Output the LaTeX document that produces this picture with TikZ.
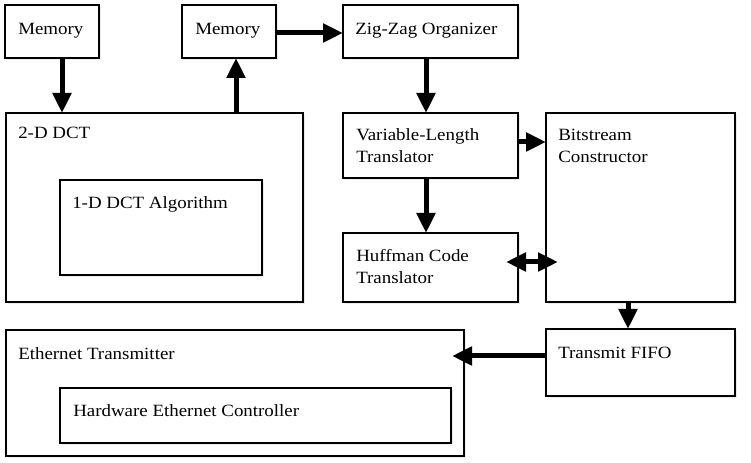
\documentclass[tikz,border=0pt]{standalone}
\usepackage{fontspec}
\setmainfont[FakeStretch=1.1]{Liberation Serif}
\usetikzlibrary{arrows.meta,calc,shadows}
\newcommand\twolines[2]{\vtop{\baselineskip=16.5pt\hbox{#1}\hbox{#2}}}
\newcommand\pbox[5]{\node[box, minimum width=#4*0.75pt, minimum height=#5*0.75pt] (#1) at (#2,#3) {};}
\begin{document}
\begin{tikzpicture}[x=0.75pt,y=-0.75pt,
 box/.style={draw=black, line width=1.9pt, fill=white, inner sep=0pt, outer sep=0pt, anchor=north west,
   drop shadow={shadow xshift=1.5pt, shadow yshift=-1.5pt, opacity=0.15}},
 lbl/.style={anchor=base west, inner sep=0pt, font=\fontsize{12.9pt}{16.5pt}\selectfont},
 tipa/.tip={Triangle[length=15pt,width=13.5pt]},
 arr/.style={line width=3.75pt, -tipa},
 darr/.style={line width=3.75pt, tipa-tipa}]
\useasboundingbox (0,0) rectangle (751,463);
% boxes
\pbox{m1}{5}{5}{94}{53}
\pbox{m2}{182}{5}{94}{53}
\pbox{zz}{343}{5}{175}{53}
\pbox{dct2}{6}{113}{297}{189}
\pbox{dct1}{60}{180}{202}{95}
\pbox{vl}{343}{113}{175}{65}
\pbox{bc}{546}{113}{189}{189}
\pbox{hf}{343}{233}{175}{69}
\pbox{tf}{546}{329}{189}{67}
\pbox{et}{6}{330}{458}{126}
\pbox{hw}{60}{388}{391}{55}
% labels
\node[lbl] (tm1) at ($(m1.north west)+(13,30)$) {Memory};
\node[lbl] (tm2) at ($(m2.north west)+(13,30)$) {Memory};
\node[lbl] (tzz) at ($(zz.north west)+(12,30)$) {Zig-Zag Organizer};
\node[lbl] (tdct2) at ($(dct2.north west)+(12,26)$) {2-D DCT};
\node[lbl] (tdct1) at ($(dct1.north west)+(12,29)$) {1-D DCT Algorithm};
\node[lbl] (tvl) at ($(vl.north west)+(13,28)$) {\twolines{Variable-Length}{Translator}};
\node[lbl] (tbc) at ($(bc.north west)+(12,28)$) {\twolines{Bitstream}{Constructor}};
\node[lbl] (thf) at ($(hf.north west)+(13,29)$) {\twolines{Huffman Code}{Translator}};
\node[lbl] (ttf) at ($(tf.north west)+(12,30)$) {Transmit FIFO};
\node[lbl] (tet) at ($(et.north west)+(12,30)$) {Ethernet Transmitter};
\node[lbl] (thw) at ($(hw.north west)+(13,29)$) {Hardware Ethernet Controller};
% connectors
\draw[arr] ($(m1.south)+(10,0)$) -- ($(m1.south |- dct2.north)+(10,0)$);
\draw[arr] ($(m2.south |- dct2.north)+(7,0)$) -- ($(m2.south)+(7,0)$);
\draw[arr] ($(m2.east)+(0,1.5)$) -- ($(zz.west)+(0,1.5)$);
\draw[arr] ($(zz.south)+(-4.5,0)$) -- ($(zz.south |- vl.north)+(-4.5,0)$);
\draw[arr] ($(vl.south)+(-4.5,0)$) -- ($(vl.south |- hf.north)+(-4.5,0)$);
\draw[arr] ($(vl.east)+(0,-3.5)$) -- ($(vl.east -| bc.west)+(0,-3.5)$);
\draw[darr] ($(hf.east)+(-12,-5.5)$) -- ($(hf.east -| bc.west)+(12,-5.5)$);
\draw[arr] ($(bc.south)+(-12.5,0)$) -- ($(bc.south |- tf.north)+(-12.5,0)$);
\draw[arr] ($(tf.west)+(0,-6.5)$) -- ($(tf.west -| et.east)+(-12,-6.5)$);
\end{tikzpicture}
\end{document}
